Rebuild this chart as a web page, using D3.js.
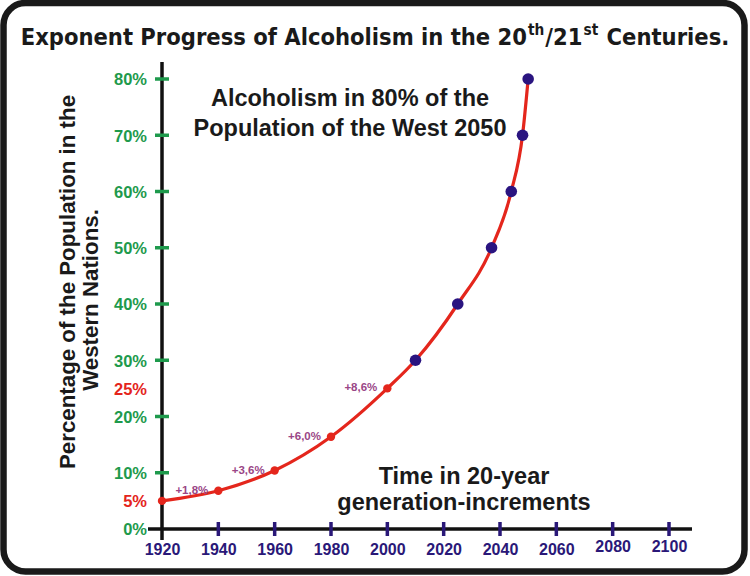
<!DOCTYPE html>
<html><head><meta charset="utf-8">
<script src="https://cdn.jsdelivr.net/npm/d3@7"></script>
<style>
html,body{margin:0;padding:0;background:#fff;}
svg{display:block;}
</style></head>
<body>
<svg id="chart" width="750" height="576"></svg>
<script>
// ---- data ----
const yearTicks = [1920, 1940, 1960, 1980, 2000, 2020, 2040, 2060, 2080, 2100];
const pctTicks = [0, 5, 10, 20, 25, 30, 40, 50, 60, 70, 80];
const redTicks = [5, 25];
const markTicks = [10, 20, 30, 40, 50, 60, 70, 80];
const histYears = [1920, 1940, 1960, 1980, 2000];
const histValues = [5, 6.8, 10.4, 16.4, 25];
const projYears = [2010, 2025, 2037, 2044, 2048, 2050];
const projValues = [30, 40, 50, 60, 70, 80];
const stepLabels = ["+1,8%", "+3,6%", "+6,0%", "+8,6%"];
const stepYears = [1940, 1960, 1980, 2000];
const stepValues = [6.8, 10.4, 16.4, 25];

const svg = d3.select("#chart");
const x = d3.scaleLinear().domain([1920, 2100]).range([162, 669]);
const y = d3.scaleLinear().domain([0, 80]).range([529, 79]);

const GREEN = "#1e9a4c", RED = "#e4241c", NAVY = "#2a1878", PURPLE = "#9a4686", DOT = "#2a1480";
const SANS = "'Liberation Sans', Arial, sans-serif";

// border
svg.append("rect").attr("x", 3.5).attr("y", 3).attr("width", 741).attr("height", 568.5)
  .attr("rx", 22).attr("fill", "#fff").attr("stroke", "#1a1a1a").attr("stroke-width", 6.5);

// title (fit to 705px width)
const title = svg.append("text").attr("x", 375).attr("y", 45).attr("text-anchor", "middle")
  .attr("font-family", "'DejaVu Sans Condensed', 'DejaVu Sans', sans-serif")
  .attr("font-weight", "bold").attr("font-size", 24).attr("fill", "#1a1a1a");
title.append("tspan").text("Exponent Progress of Alcoholism in the 20");
title.append("tspan").attr("dy", -10).attr("dx", 1).attr("font-size", "0.65em").text("th");
title.append("tspan").attr("dy", 10).attr("dx", 1).text("/21");
title.append("tspan").attr("dy", -10).attr("dx", 1).attr("font-size", "0.65em").text("st");
title.append("tspan").attr("dy", 10).attr("dx", 1).text(" Centuries.");
const tw = title.node().getComputedTextLength();
if (tw > 0) title.attr("font-size", 24 * 705 / tw);

// axes lines
svg.append("line").attr("x1", x(1920)).attr("x2", x(1920)).attr("y1", 62).attr("y2", 540)
  .attr("stroke", "#111").attr("stroke-width", 3.5);
svg.append("line").attr("x1", 148).attr("x2", 692).attr("y1", y(0)).attr("y2", y(0))
  .attr("stroke", "#111").attr("stroke-width", 3.5);

// y tick marks
svg.append("g").selectAll("line").data(markTicks).join("line")
  .attr("x1", x(1920) - 7).attr("x2", x(1920) + 7)
  .attr("y1", d => y(d)).attr("y2", d => y(d))
  .attr("stroke", GREEN).attr("stroke-width", 3.5);

// x tick marks
svg.append("g").selectAll("line").data(yearTicks.slice(1)).join("line")
  .attr("x1", d => x(d)).attr("x2", d => x(d))
  .attr("y1", y(0) - 7).attr("y2", y(0) + 7)
  .attr("stroke", NAVY).attr("stroke-width", 3.5);

// y axis labels
const yAxis = d3.axisLeft(y).tickValues(pctTicks).tickSize(0).tickPadding(0)
  .tickFormat(d => d + "%");
const gy = svg.append("g").attr("transform", `translate(147,0)`).call(yAxis);
gy.select(".domain").remove();
gy.selectAll("text").attr("font-family", SANS)
  .attr("font-weight", "bold").attr("font-size", 16.5).attr("dy", "0.36em")
  .attr("fill", d => redTicks.includes(d) ? RED : GREEN);

// x axis labels
const xAxis = d3.axisBottom(x).tickValues(yearTicks).tickSize(0).tickPadding(0)
  .tickFormat(d3.format("d"));
const gx = svg.append("g").attr("transform", `translate(0,555)`).call(xAxis);
gx.select(".domain").remove();
gx.selectAll("text").attr("font-family", SANS)
  .attr("font-weight", "bold").attr("font-size", 16).attr("fill", NAVY)
  .attr("y", d => d >= 2080 ? -3 : 0).attr("dy", 0);

// curve
const allPts = histYears.map((yr, i) => [yr, histValues[i]])
  .concat(projYears.map((yr, i) => [yr, projValues[i]]));
const line = d3.line().x(d => x(d[0])).y(d => y(d[1])).curve(d3.curveMonotoneX);
svg.append("path").datum(allPts).attr("d", line).attr("fill", "none")
  .attr("stroke", "#e4261c").attr("stroke-width", 3.2);

// historic dots
svg.append("g").selectAll("circle").data(histYears).join("circle")
  .attr("cx", d => x(d)).attr("cy", (d, i) => y(histValues[i])).attr("r", 4.2).attr("fill", "#e4261c");

// projected dots
svg.append("g").selectAll("circle").data(projYears).join("circle")
  .attr("cx", d => x(d)).attr("cy", (d, i) => y(projValues[i])).attr("r", 5.8).attr("fill", DOT);

// step labels
svg.append("g").selectAll("text").data(stepLabels).join("text")
  .attr("x", (d, i) => x(stepYears[i]) - 10).attr("y", (d, i) => y(stepValues[i]) + 3)
  .attr("text-anchor", "end").attr("font-family", SANS)
  .attr("font-weight", "bold").attr("font-size", 11.5).attr("fill", PURPLE).text(d => d);

// annotations
const ann = (lines, cx, ys, size) => {
  const t = svg.append("text").attr("text-anchor", "middle")
    .attr("font-family", SANS).attr("font-weight", "bold")
    .attr("font-size", size).attr("fill", "#1a1a1a");
  lines.forEach((l, i) => t.append("tspan").attr("x", cx).attr("y", ys[i]).text(l));
};
ann(["Alcoholism in 80% of the", "Population of the West 2050"], 350, [106, 136], 23.5);
ann(["Time in 20-year", "generation-increments"], 464, [484, 510], 23.5);

// y axis title
svg.append("text").attr("transform", "translate(75,282) rotate(-90)").attr("text-anchor", "middle")
  .attr("font-family", SANS).attr("font-weight", "bold")
  .attr("font-size", 22.3).attr("fill", "#1a1a1a").text("Percentage of the Population in the");
svg.append("text").attr("transform", "translate(98,300) rotate(-90)").attr("text-anchor", "middle")
  .attr("font-family", SANS).attr("font-weight", "bold")
  .attr("font-size", 22.3).attr("fill", "#1a1a1a").text("Western Nations.");
</script>
</body></html>
